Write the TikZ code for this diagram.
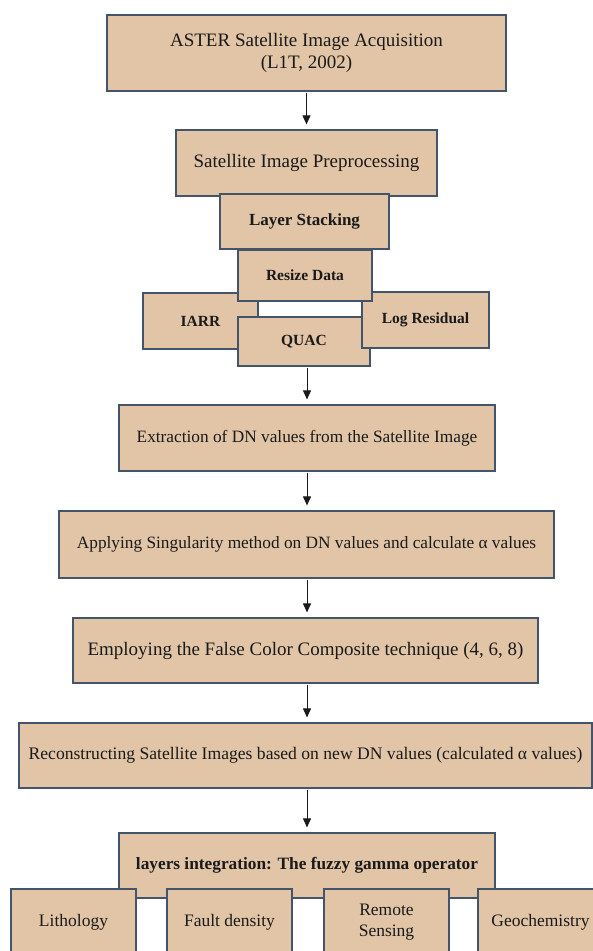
\documentclass[tikz,border=0pt]{standalone}
\usepackage{fontspec}
\setmainfont{LiberationSerif}[Extension=.ttf, UprightFont=*-Regular, BoldFont=*-Bold, ItalicFont=*-Italic, BoldItalicFont=*-BoldItalic]
\usetikzlibrary{arrows.meta}
\definecolor{boxfill}{HTML}{E2C4A6}
\definecolor{boxline}{HTML}{44546A}
\definecolor{txt}{HTML}{1A1A1A}
\tikzset{
  box/.style={rectangle, draw=boxline, fill=boxfill, line width=1.2pt, inner sep=0pt, text=txt, align=center},
  fbig/.style={font=\fontsize{19}{22}\selectfont},
  fmid/.style={font=\fontsize{17.3}{21}\selectfont},
  fbold/.style={font=\bfseries\fontsize{15.5}{18}\selectfont},
  fboldmid/.style={font=\bfseries\fontsize{17}{20}\selectfont},
  arr/.style={draw=txt, line width=1pt, -{Triangle[width=8pt,length=9pt]}, shorten >=5pt, shorten <=1pt}
}
\begin{document}
\begin{tikzpicture}[x=1pt,y=-1pt]
\useasboundingbox (0,0) rectangle (593,951);
\clip (0,0) rectangle (593,951);
\fill[white] (0,0) rectangle (593,951);
% main chain
\node[box,fbig,minimum width=399pt,minimum height=76pt] (top) at (306.5,53) {ASTER Satellite Image Acquisition\\(L1T, 2002)};
\node[box,fbig,minimum width=261pt,minimum height=66pt] (pre) at (306.5,163) {Satellite Image Preprocessing};
\node[box,fboldmid,minimum width=169pt,minimum height=55pt] (stack) at (304.5,221.5) {Layer Stacking};
\node[box,fbold,minimum width=115pt,minimum height=56pt] (iarr) at (200.5,321) {IARR};
\node[box,fbold,minimum width=132pt,minimum height=49pt] (quac) at (304,341.5) {QUAC};
\node[box,fbold,minimum width=127pt,minimum height=56pt] (logres) at (425.5,320) {Log Residual};
\node[box,fbold,minimum width=134pt,minimum height=51pt] (resize) at (305,275.5) {Resize Data};
\node[box,fmid,minimum width=376pt,minimum height=66pt] (extr) at (307,438) {Extraction of DN values from the Satellite Image};
\node[box,fmid,minimum width=495pt,minimum height=67pt] (appl) at (306.5,544.5) {Applying Singularity method on DN values and calculate α values};
\node[box,fbig,minimum width=465pt,minimum height=65pt] (empl) at (305.5,650.5) {Employing the False Color Composite technique (4, 6, 8)};
\node[box,font=\fontsize{17.6}{21}\selectfont,minimum width=573pt,minimum height=65pt] (recon) at (305.5,755.5) {Reconstructing Satellite Images based on new DN values (calculated α values)};
\node[box,font=\bfseries\fontsize{17.3}{21}\selectfont,minimum width=376pt,minimum height=65pt] (layers) at (307,865.5) {layers integration: The fuzzy gamma operator};
% bottom boxes
\node[box,font=\fontsize{17.5}{21}\selectfont,minimum width=125pt,minimum height=66pt] (litho) at (73.5,922) {Lithology};
\node[box,font=\fontsize{17.5}{21}\selectfont,minimum width=125pt,minimum height=66pt] (fault) at (229.5,922) {Fault density};
\node[box,font=\fontsize{17.5}{21}\selectfont,minimum width=125pt,minimum height=66pt] (remote) at (386.5,922) {Remote\\Sensing};
\node[box,font=\fontsize{17.5}{21}\selectfont,minimum width=125pt,minimum height=66pt] (geo) at (540.5,922) {Geochemistry};
% arrows
\draw[arr] (top.south) -- (pre.north);
\draw[arr] (quac.south -| extr.north) -- (extr.north);
\draw[arr] (extr.south) -- (extr.south |- appl.north);
\draw[arr] (extr.south |- appl.south) -- (extr.south |- empl.north);
\draw[arr] (extr.south |- empl.south) -- (extr.south |- recon.north);
\draw[arr] (recon.south -| layers.north) -- (layers.north);
\end{tikzpicture}
\end{document}
